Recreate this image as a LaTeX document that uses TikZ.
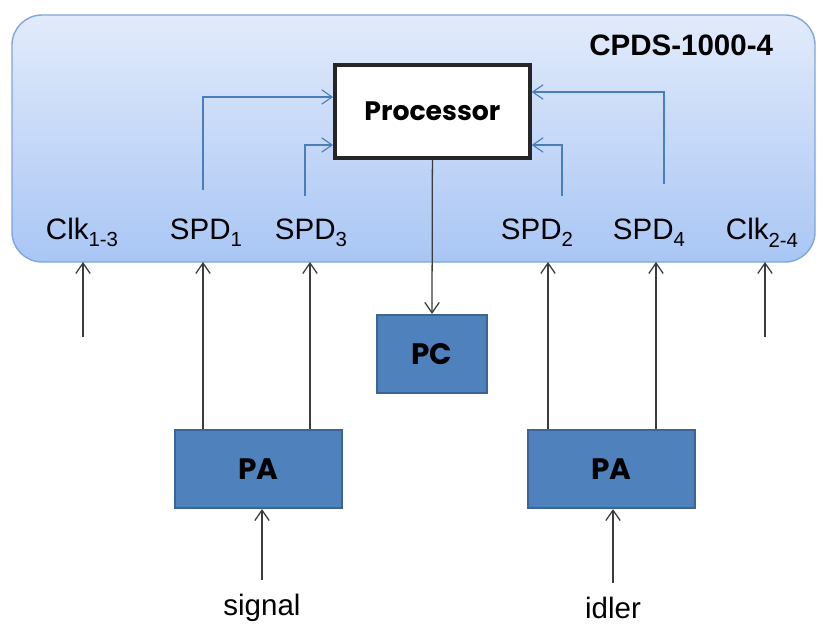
\documentclass[tikz,border=0pt]{standalone}
\usepackage{fontspec}
\setmainfont{Liberation Sans}
\newfontfamily\gothic{Poppins}
\usetikzlibrary{positioning,arrows.meta}

\definecolor{boxtop}{HTML}{E2EBFB}
\definecolor{boxbot}{HTML}{A9C6F4}
\definecolor{boxline}{HTML}{7EA7DD}
\definecolor{paFill}{HTML}{4F81BD}
\definecolor{paLine}{HTML}{3B6595}
\definecolor{fbline}{HTML}{4A7EBB}
\definecolor{wire}{HTML}{3C3C3C}

\newcommand{\lsub}[1]{\raisebox{-0.45ex}{\fontsize{14.5}{15}\selectfont #1}}

\tikzstyle{cpds_style}=[>={Straight Barb[length=2.6mm,width=3.6mm]},
  system/.style={rectangle,rounded corners=0.75cm,draw=boxline,line width=1pt,
    top color=boxtop,bottom color=boxbot,minimum width=20.075cm,minimum height=6.175cm},
  title/.style={font=\fontsize{21}{24}\selectfont\bfseries},
  proc/.style={rectangle,fill=white,draw=black!85,line width=2.6pt,minimum width=4.875cm,
    minimum height=2.325cm,font=\gothic\fontsize{19}{22}\selectfont\bfseries},
  block/.style={rectangle,fill=paFill,draw=paLine,line width=1.5pt,
    font=\gothic\fontsize{21}{24}\selectfont\bfseries},
  portlabel/.style={font=\fontsize{21}{24}\selectfont,inner sep=0pt},
  inlabel/.style={font=\fontsize{21}{24}\selectfont,inner sep=0pt},
  wireStyle/.style={->,draw=wire,line width=0.9pt},
  fbStyle/.style={->,draw=fbline,line width=0.8pt},]

\begin{document}
\begin{tikzpicture}[cpds_style]
    \useasboundingbox (0,0) rectangle (20.525,-15.65);

    % Draw the detector system box
    \node[system] (sys) at (10.3375,-3.4625) {};
    \node[title, anchor=east] (name) at (19.45,-1.125) {CPDS-1000-4};
    \node[proc] (proc) at (10.81,-2.79) {Processor};

    % Draw the port labels along the bottom of the box
    \foreach \name / \x / \txt / \sub in {clkA/2.05/Clk/1-3, spdA/5.15/SPD/1,
        spdC/7.775/SPD/3, spdB/13.425/SPD/2, spdD/16.225/SPD/4, clkB/19.05/Clk/2-4}
        \node[portlabel] (\name) at (\x,-5.82) {\txt\lsub{\sub}};

    % Draw the PA and PC blocks
    \node[block, minimum width=4.175cm, minimum height=1.95cm] (PA-1) at (6.46,-11.725) {PA};
    \node[block, minimum width=4.175cm, minimum height=1.95cm] (PA-2) at (15.29,-11.725) {PA};
    \node[block, minimum width=2.75cm, minimum height=1.95cm] (PC) at (10.8,-8.85) {PC};

    \node[inlabel] (signal) at (6.55,-15.2) {signal};
    \node[inlabel] (idler) at (15.325,-15.2) {idler};

    % Inputs on the bottom edge of the box
    \foreach \name / \x in {clkA/2.075, spdA/5.075, spdC/7.75, spdB/13.7, spdD/16.4, clkB/19.125}
        \coordinate (in-\name) at (\x,-6.55);

    % Clocks come in from below
    \draw[wireStyle] (2.075,-8.425) -- (in-clkA);
    \draw[wireStyle] (19.125,-8.425) -- (in-clkB);

    % Connect every PA with its two detectors
    \draw[wireStyle] (PA-1.north -| in-spdA) -- (in-spdA);
    \draw[wireStyle] (PA-1.north -| in-spdC) -- (in-spdC);
    \draw[wireStyle] (PA-2.north -| in-spdB) -- (in-spdB);
    \draw[wireStyle] (PA-2.north -| in-spdD) -- (in-spdD);

    \draw[wireStyle] ([yshift=0.35cm]signal.north) -- (signal.north |- PA-1.south);
    \draw[wireStyle] ([yshift=0.35cm]idler.north) -- (idler.north |- PA-2.south);

    \draw[wireStyle] (proc.south) -- (PC.north);

    % Detector signals into the processor
    \draw[fbStyle] (5.075,-4.75) |- ([yshift=0.365cm]proc.west);
    \draw[fbStyle] (7.625,-4.9) |- ([yshift=-0.835cm]proc.west);
    \draw[fbStyle] (14.05,-4.9) |- ([yshift=-0.835cm]proc.east);
    \draw[fbStyle] (16.6,-4.6) |- ([yshift=0.49cm]proc.east);

\end{tikzpicture}
\end{document}
